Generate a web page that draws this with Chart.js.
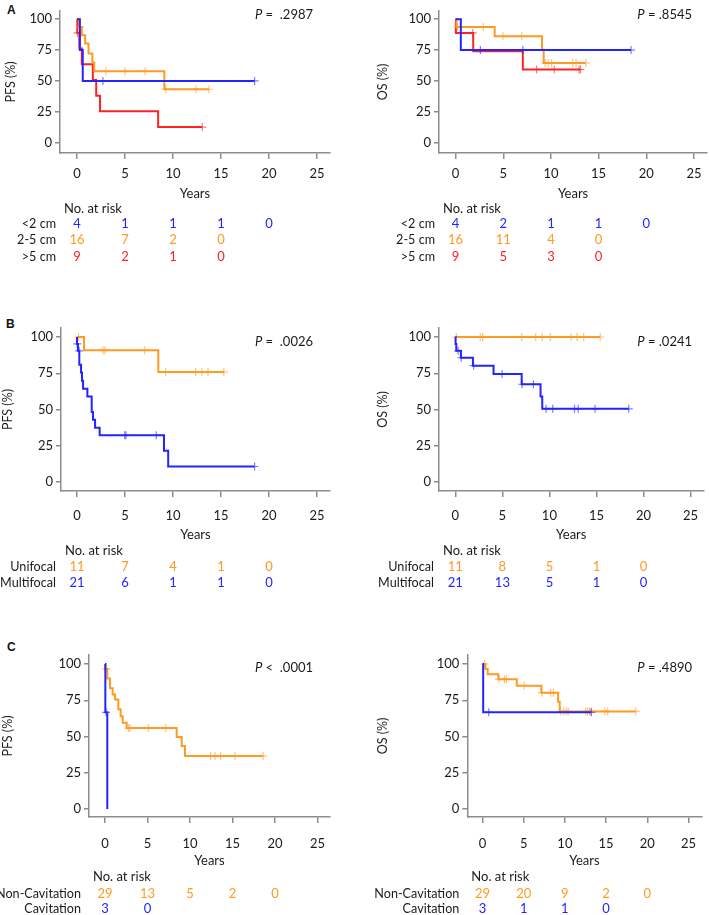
<!DOCTYPE html>
<html>
<head>
<meta charset="utf-8">
<script src="https://cdn.jsdelivr.net/npm/chart.js@4.4.1/dist/chart.umd.min.js"></script>
<style>
  body { margin: 0; background: #fff; width: 709px; height: 915px; position: relative; overflow: hidden; }
  .tag { position: absolute; font: bold 12px "Liberation Sans", Arial, sans-serif; color: #111; line-height: 12px; }
</style>
</head>
<body>
<div class="tag" style="left:7px;top:4px">A</div>
<div class="tag" style="left:6px;top:318px">B</div>
<div class="tag" style="left:7px;top:641px">C</div>
<script>
// shared axis values
const xTicks = [0, 5, 10, 15, 20, 25];
const yTicks = [0, 25, 50, 75, 100];
const riskTimes = [0, 5, 10, 15, 20];

const BLUE = '#2424ff';
const ORANGE = '#ff9a22';
const RED = '#ff2222';

// ---- A: tumour size, PFS ----
const aPfsSmallT = [0, 0.3, 0.6, 18.5];
const aPfsSmallS = [100, 75, 50, 50];
const aPfsSmallCens = [2.7, 18.5];
const aPfsMidT = [0, 0.2, 0.5, 0.85, 1.2, 1.6, 1.8, 9.1, 13.75];
const aPfsMidS = [100, 93.75, 87.1, 80.4, 72.3, 65, 57.8, 43.3, 43.3];
const aPfsMidCens = [0.3, 3.0, 5.0, 7.1, 9.25, 12.4, 13.75];
const aPfsLargeT = [0, 0.03, 0.25, 0.5, 1.65, 2.0, 2.4, 8.45, 13.05];
const aPfsLargeS = [100, 88.9, 76.2, 63.5, 50.8, 38.1, 25.4, 12.7, 12.7];
const aPfsLargeCens = [0.05, 13.05];
const aPfsRiskSmall = [4, 1, 1, 1, 0];
const aPfsRiskMid = [16, 7, 2, 0];
const aPfsRiskLarge = [9, 2, 1, 0];

// ---- A: tumour size, OS ----
const aOsSmallT = [0, 0.55, 18.4];
const aOsSmallS = [100, 75, 75];
const aOsSmallCens = [2.6, 7.05, 18.4];
const aOsMidT = [0, 0.1, 4.1, 9.06, 9.24, 13.65];
const aOsMidS = [100, 93.75, 86.2, 75.4, 64.6, 64.6];
const aOsMidCens = [0.2, 2.9, 4.97, 6.94, 9.4, 9.72, 10.07, 12.3, 12.64, 13.65];
const aOsLargeT = [0, 0.03, 1.85, 7.05, 13.1];
const aOsLargeS = [100, 88.9, 74.1, 59.3, 59.3];
const aOsLargeCens = [1.8, 8.5, 10.35, 12.95, 13.1];
const aOsRiskSmall = [4, 2, 1, 1, 0];
const aOsRiskMid = [16, 11, 4, 0];
const aOsRiskLarge = [9, 5, 3, 0];

// ---- B: focality, PFS ----
const bPfsUniT = [0, 0.73, 8.47, 15.3];
const bPfsUniS = [100, 90.9, 75.8, 75.8];
const bPfsUniCens = [0.17, 2.7, 2.9, 7.05, 9.24, 12.36, 13.0, 13.65, 15.3];
const bPfsMultiT = [0, 0, 0.1, 0.24, 0.42, 0.52, 0.63, 1.08, 1.53, 1.67, 1.88, 2.36, 9.06, 9.5, 18.5];
const bPfsMultiS = [100, 95.2, 90.5, 80.9, 75.6, 69.8, 64.3, 58.9, 48.2, 42.9, 37.5, 32.2, 21.5, 10.7, 10.7];
const bPfsMultiCens = [0.03, 0.22, 4.97, 5.1, 8.26, 18.5];
const bPfsRiskUni = [11, 7, 4, 1, 0];
const bPfsRiskMulti = [21, 6, 1, 1, 0];

// ---- B: focality, OS ----
const bOsUniT = [0, 15.4];
const bOsUniS = [100, 100];
const bOsUniCens = [0.1, 2.64, 2.9, 7.05, 8.54, 9.24, 10.1, 12.3, 12.95, 13.65, 15.4];
const bOsMultiT = [0, 0.02, 0.1, 0.59, 1.87, 4.06, 7.05, 9.06, 9.24, 18.44];
const bOsMultiS = [100, 95.2, 90.5, 85.7, 80.2, 74.5, 67.4, 59.0, 50.5, 50.5];
const bOsMultiCens = [0.3, 0.62, 1.94, 4.97, 7.1, 8.3, 9.65, 10.35, 12.67, 13.06, 14.86, 18.44];
const bOsRiskUni = [11, 8, 5, 1, 0];
const bOsRiskMulti = [21, 13, 5, 1, 0];

// ---- C: cavitation, PFS ----
const cPfsNonT = [0, 0.05, 0.27, 0.59, 0.9, 1.18, 1.57, 1.84, 2.08, 2.55, 8.43, 9.02, 9.41, 18.6];
const cPfsNonS = [100, 96.6, 90.0, 83.2, 79.0, 75.5, 68.8, 64.0, 59.5, 55.8, 49.7, 43.5, 36.5, 36.5];
const cPfsNonCens = [0.15, 2.75, 2.94, 5.1, 7.14, 12.43, 12.94, 13.6, 15.3, 18.6];
const cPfsCavT = [0, 0.04, 0.27];
const cPfsCavS = [100, 66.7, 0];
const cPfsCavCens = [0.12];
const cPfsRiskNon = [29, 13, 5, 2, 0];
const cPfsRiskCav = [3, 0];

// ---- C: cavitation, OS ----
const cOsNonT = [0, 0.35, 0.63, 1.92, 4.16, 7.14, 9.18, 9.37, 18.6];
const cOsNonS = [100, 96.6, 93.0, 89.4, 85.0, 80.2, 74.0, 67.3, 67.3];
const cOsNonCens = [0.24, 2.0, 2.67, 2.9, 5.06, 7.2, 8.27, 8.6, 9.5, 9.84, 10.16, 10.4, 12.5, 12.75, 12.98, 13.2, 14.86, 15.2, 18.6];
const cOsCavT = [0, 0.08, 13.2];
const cOsCavS = [100, 66.7, 66.7];
const cOsCavCens = [0.75, 13.2];
const cOsRiskNon = [29, 20, 9, 2, 0];
const cOsRiskCav = [3, 1, 1, 0];

const pValues = ['=  .2987', '= .8545', '=  .0026', '= .0241', '<  .0001', '= .4890'];

// ---------------------------------------------------------------
function lighten(hex) {
  const n = parseInt(hex.slice(1), 16);
  return `rgba(${n >> 16},${(n >> 8) & 255},${n & 255},0.6)`;
}

function stepPoints(t, s) {
  return t.map((x, i) => ({ x: x, y: s[i] }));
}

// censor marks sit on the curve at their time
function censorPoints(t, s, cens) {
  return cens.map(x => {
    let k = 0;
    for (let i = 0; i < t.length; i++) if (t[i] <= x) k = i;
    return { x: x, y: s[k] };
  });
}

const riskPlugin = {
  id: 'riskTable',
  afterDraw(chart) {
    const o = chart.options.plugins.riskTable;
    const ctx = chart.ctx;
    const xs = chart.scales.x;
    const area = chart.chartArea;
    ctx.save();
    ctx.font = '13px Lato';
    ctx.textBaseline = 'middle';
    ctx.fillStyle = '#1a1a1a';
    ctx.textAlign = 'left';
    ctx.fillText('No. at risk', area.left + 4, area.bottom + o.headOff);
    o.rows.forEach((row, i) => {
      const y = area.bottom + o.rowOff + i * o.rowGap;
      ctx.textAlign = 'right';
      ctx.fillStyle = '#1a1a1a';
      ctx.font = '12.6px Lato';
      ctx.fillText(row.label, area.left - o.labelGap, y);
      ctx.font = '13px Lato';
      ctx.textAlign = 'center';
      ctx.fillStyle = row.color;
      row.counts.forEach((n, j) => ctx.fillText(String(n), xs.getPixelForValue(riskTimes[j]), y));
    });
    // P value, italic P
    ctx.fillStyle = '#1a1a1a';
    ctx.textAlign = 'left';
    ctx.font = '13px Lato';
    const rest = ' ' + o.pText;
    const wRest = ctx.measureText(rest).width;
    ctx.font = 'italic 13px Lato';
    const wP = ctx.measureText('P').width;
    const x0 = o.pX - wRest - wP;
    ctx.fillText('P', x0, o.pY);
    ctx.font = '13px Lato';
    ctx.fillText(rest, x0 + wP, o.pY);
    ctx.restore();
  }
};

function buildPanel(g, yTitle, series, rows, pText) {
  const cv = document.createElement('canvas');
  cv.width = g.w;
  cv.height = g.h;
  cv.style.cssText = `position:absolute;left:${g.left}px;top:${g.top}px;width:${g.w}px;height:${g.h}px`;
  document.body.appendChild(cv);

  const cl = g.L - g.left, cr = g.R - g.left, ct = g.T - g.top, cb = g.B - g.top;
  const padLeft = Math.max(0, g.titleX - g.left - 7.5);
  const yWidth = cl - padLeft;
  const xHeight = g.yearsOff + 7.8;
  const padBottom = g.h - cb - xHeight;

  const datasets = [];
  series.forEach(sr => {
    datasets.push({
      data: stepPoints(sr.t, sr.s),
      showLine: true,
      stepped: 'before',
      borderColor: sr.color,
      borderWidth: 2,
      pointRadius: 0,
      fill: false
    });
    datasets.push({
      data: censorPoints(sr.t, sr.s, sr.cens),
      showLine: false,
      pointStyle: 'cross',
      pointRadius: 4,
      pointBorderWidth: 1.2,
      pointBorderColor: lighten(sr.color),
      borderColor: lighten(sr.color)
    });
  });

  const axisGrid = { drawOnChartArea: false, drawTicks: true, color: '#8c8c8c', lineWidth: 1.5 };
  const axisBorder = { display: true, color: '#8c8c8c', width: 1.5 };

  new Chart(cv.getContext('2d'), {
    type: 'scatter',
    data: { datasets: datasets },
    plugins: [riskPlugin],
    options: {
      responsive: false,
      animation: false,
      events: [],
      layout: {
        autoPadding: false,
        padding: { left: padLeft, right: g.w - cr, top: ct, bottom: padBottom }
      },
      plugins: {
        legend: { display: false },
        tooltip: { enabled: false },
        riskTable: {
          rows: rows,
          headOff: g.headOff,
          rowOff: g.rowOff,
          rowGap: g.rowGap,
          labelGap: g.labelGap,
          pText: pText,
          pX: g.pX - g.left,
          pY: g.pY - g.top
        }
      },
      scales: {
        x: {
          type: 'linear',
          bounds: 'data',
          min: (g.L - g.x0) / g.ppy,
          max: (g.R - g.x0) / g.ppy,
          afterBuildTicks: s => { s.ticks = xTicks.map(v => ({ value: v })); },
          afterFit: s => { s.height = xHeight; },
          grid: Object.assign({ tickLength: 6 }, axisGrid),
          border: axisBorder,
          ticks: { font: { family: 'Lato', size: 13 }, color: '#1a1a1a', padding: g.tickPad, maxRotation: 0 },
          title: { display: true, text: 'Years', font: { family: 'Lato', size: 13 }, color: '#1a1a1a', padding: 0 }
        },
        y: {
          type: 'linear',
          bounds: 'data',
          min: (g.y0 - g.B) / g.ppp,
          max: (g.y0 - g.T) / g.ppp,
          afterBuildTicks: s => { s.ticks = yTicks.map(v => ({ value: v })); },
          afterFit: s => { s.width = yWidth; },
          grid: Object.assign({ tickLength: 5 }, axisGrid),
          border: axisBorder,
          ticks: { font: { family: 'Lato', size: 13 }, color: '#1a1a1a', padding: 3 },
          title: { display: true, text: yTitle, font: { family: 'Lato', size: 12.5 }, color: '#1a1a1a', padding: 0 }
        }
      }
    }
  });
}

// page geometry of each panel (layout only)
const geoA = { top: 0, h: 290, T: 1, B: 153, y0: 142, ppp: 1.32, tickPad: 7.5, yearsOff: 40.5, headOff: 55.5, rowOff: 70.5, rowGap: 16.5, labelGap: 4, pY: 15 };
const geoB = { top: 295, h: 300, T: 328, B: 491, y0: 482, ppp: 1.45, tickPad: 11, yearsOff: 44, headOff: 60, rowOff: 75.5, rowGap: 16, labelGap: 5, pY: 342 };
const geoC = { top: 600, h: 315, T: 655, B: 817, y0: 809, ppp: 1.45, tickPad: 13, yearsOff: 44, headOff: 60, rowOff: 76.5, rowGap: 15.5, labelGap: 8, pY: 668 };
const leftAB = { left: 0, w: 355, R: 330, x0: 77, ppy: 9.6, pX: 313 };
const rightAB = { left: 355, w: 354, L: 439, R: 709, x0: 455.7, ppy: 9.6, titleX: 383, pX: 692 };

function draw() {
  buildPanel(Object.assign({}, geoA, leftAB, { L: 60, titleX: 11 }), 'PFS (%)', [
    { t: aPfsSmallT, s: aPfsSmallS, cens: aPfsSmallCens, color: BLUE },
    { t: aPfsMidT, s: aPfsMidS, cens: aPfsMidCens, color: ORANGE },
    { t: aPfsLargeT, s: aPfsLargeS, cens: aPfsLargeCens, color: RED }
  ], [
    { label: '<2 cm', color: BLUE, counts: aPfsRiskSmall },
    { label: '2-5 cm', color: ORANGE, counts: aPfsRiskMid },
    { label: '>5 cm', color: RED, counts: aPfsRiskLarge }
  ], pValues[0]);

  buildPanel(Object.assign({}, geoA, rightAB), 'OS (%)', [
    { t: aOsSmallT, s: aOsSmallS, cens: aOsSmallCens, color: BLUE },
    { t: aOsMidT, s: aOsMidS, cens: aOsMidCens, color: ORANGE },
    { t: aOsLargeT, s: aOsLargeS, cens: aOsLargeCens, color: RED }
  ], [
    { label: '<2 cm', color: BLUE, counts: aOsRiskSmall },
    { label: '2-5 cm', color: ORANGE, counts: aOsRiskMid },
    { label: '>5 cm', color: RED, counts: aOsRiskLarge }
  ], pValues[1]);

  buildPanel(Object.assign({}, geoB, leftAB, { L: 61, titleX: 5 }), 'PFS (%)', [
    { t: bPfsMultiT, s: bPfsMultiS, cens: bPfsMultiCens, color: BLUE },
    { t: bPfsUniT, s: bPfsUniS, cens: bPfsUniCens, color: ORANGE }
  ], [
    { label: 'Unifocal', color: ORANGE, counts: bPfsRiskUni },
    { label: 'Multifocal', color: BLUE, counts: bPfsRiskMulti }
  ], pValues[2]);

  buildPanel(Object.assign({}, geoB, rightAB), 'OS (%)', [
    { t: bOsMultiT, s: bOsMultiS, cens: bOsMultiCens, color: BLUE },
    { t: bOsUniT, s: bOsUniS, cens: bOsUniCens, color: ORANGE }
  ], [
    { label: 'Unifocal', color: ORANGE, counts: bOsRiskUni },
    { label: 'Multifocal', color: BLUE, counts: bOsRiskMulti }
  ], pValues[3]);

  buildPanel(Object.assign({}, geoC, leftAB, { L: 89, x0: 105, ppy: 8.5, titleX: 5 }), 'PFS (%)', [
    { t: cPfsCavT, s: cPfsCavS, cens: cPfsCavCens, color: BLUE },
    { t: cPfsNonT, s: cPfsNonS, cens: cPfsNonCens, color: ORANGE }
  ], [
    { label: 'Non-Cavitation', color: ORANGE, counts: cPfsRiskNon },
    { label: 'Cavitation', color: BLUE, counts: cPfsRiskCav }
  ], pValues[4]);

  buildPanel(Object.assign({}, geoC, rightAB, { L: 467.3, x0: 483, ppy: 8.5 }), 'OS (%)', [
    { t: cOsCavT, s: cOsCavS, cens: cOsCavCens, color: BLUE },
    { t: cOsNonT, s: cOsNonS, cens: cOsNonCens, color: ORANGE }
  ], [
    { label: 'Non-Cavitation', color: ORANGE, counts: cOsRiskNon },
    { label: 'Cavitation', color: BLUE, counts: cOsRiskCav }
  ], pValues[5]);
}

Promise.all([
  document.fonts.load('13px Lato'),
  document.fonts.load('italic 13px Lato')
]).then(draw, draw);
</script>
</body>
</html>
